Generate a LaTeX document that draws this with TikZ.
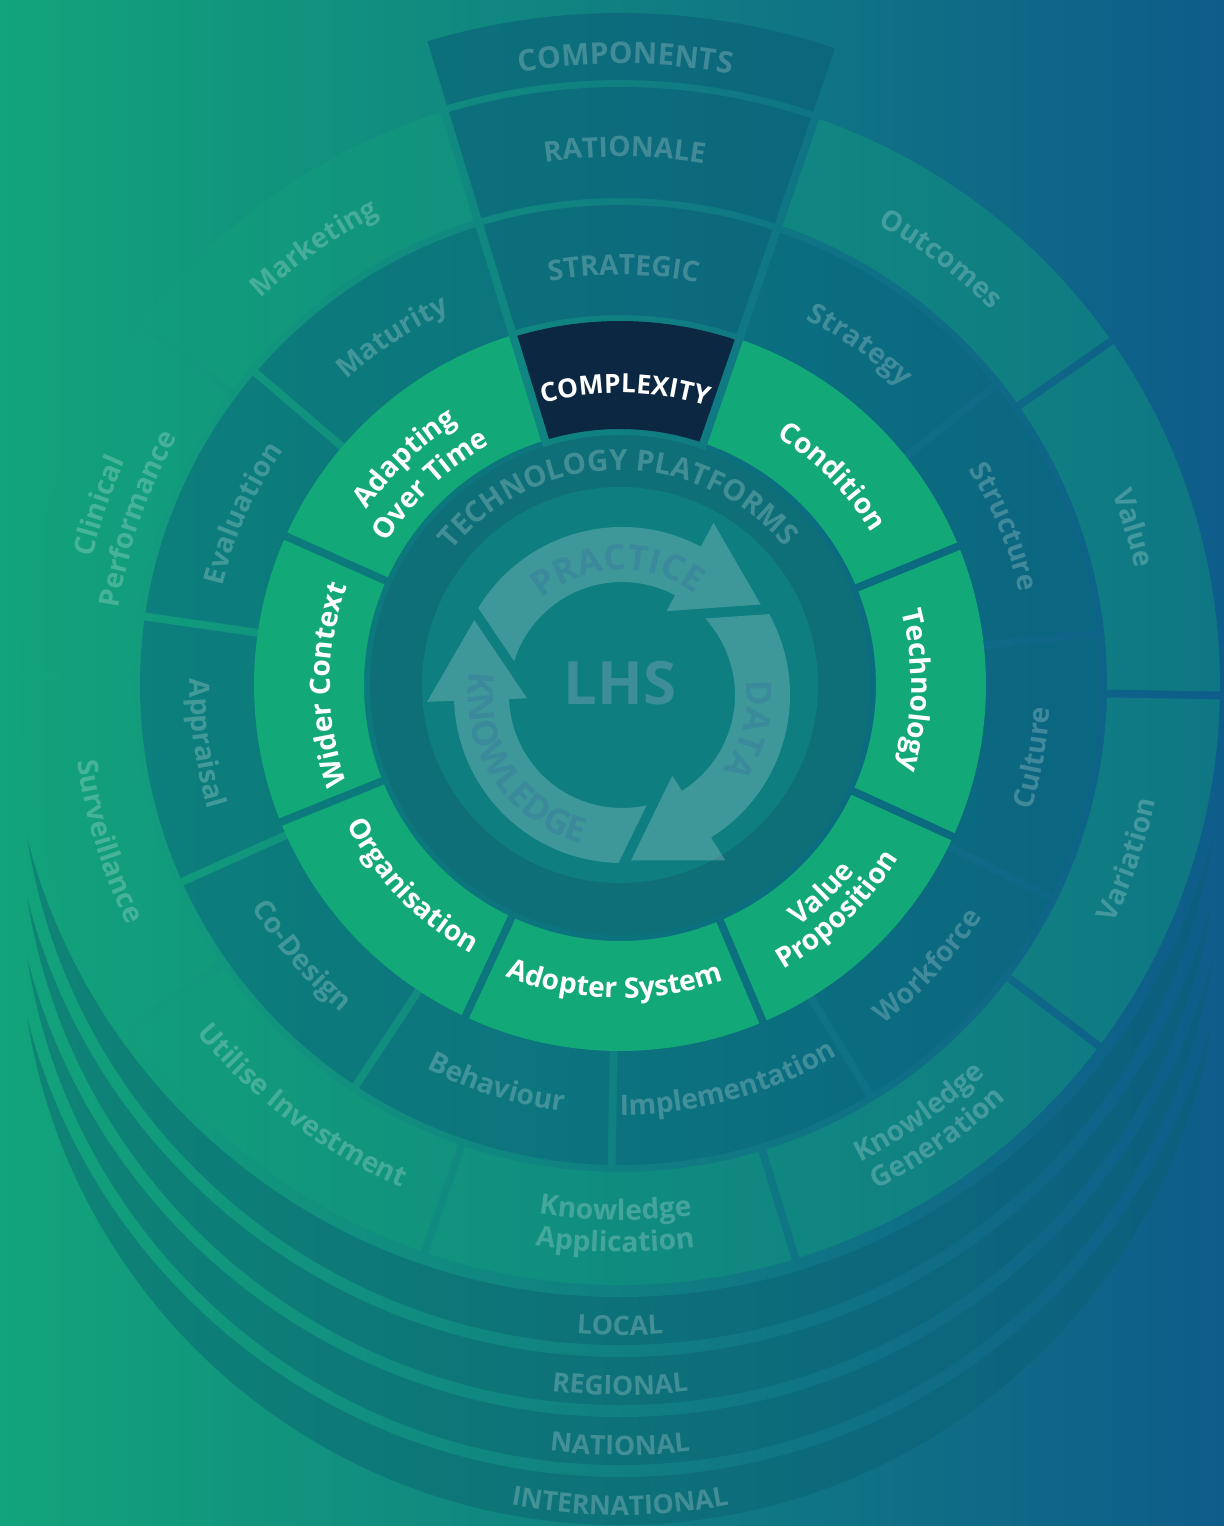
\documentclass[tikz,border=0pt]{standalone}
\usepackage{fontspec}
\setmainfont{Open Sans}
\usetikzlibrary{decorations.text}

\definecolor{bgleft}{HTML}{12A47A}
\definecolor{bgmid}{HTML}{0E8A80}
\definecolor{bgright}{HTML}{0E5C8A}
\definecolor{outerring}{HTML}{12A07C}
\definecolor{midring}{HTML}{09687C}
\definecolor{wedgecol}{HTML}{0A5F78}
\definecolor{layercol}{HTML}{0A6070}
\definecolor{domaingreen}{HTML}{13A877}
\definecolor{complexnavy}{HTML}{0B2741}
\definecolor{platformring}{HTML}{0E6F78}
\definecolor{lhsdisc}{HTML}{0E7E80}
\definecolor{cycletext}{HTML}{3A8A9C}
\definecolor{lhstext}{HTML}{3D8E98}

% page background, used again to cut gaps
\newcommand\fillpage{\shade[left color=bgleft,middle color=bgmid,right color=bgright] (-6.20,-8.41) rectangle (6.04,6.85);}
% ring part: start, end, inner r, outer r, half gap
\newcommand\ringpart[5]{({#1+asin(#5/#3)}:#3) -- ({#1+asin(#5/#4)}:#4) arc[start angle={#1+asin(#5/#4)},end angle={#2-asin(#5/#4)},radius=#4] -- ({#2-asin(#5/#3)}:#3) arc[start angle={#2-asin(#5/#3)},end angle={#1+asin(#5/#3)},radius=#3] -- cycle}
% curved labels: angle, baseline radius, format, text
\newcommand\cwtext[4]{\path[decorate,decoration={text along path,text align=center,text={|#3|#4}}] ({#1+60}:#2) arc[start angle={#1+60},end angle={#1-60},radius=#2];}
\newcommand\ccwtext[4]{\path[decorate,decoration={text along path,text align=center,text={|#3|#4}}] ({#1-60}:#2) arc[start angle={#1-60},end angle={#1+60},radius=#2];}

\newcommand\domainfont{\fontsize{8}{9}\selectfont\bfseries\color{white}}
\newcommand\faintfont{\fontsize{8}{9}\selectfont\bfseries\color{white}}
\newcommand\wedgefont{\fontsize{8}{9}\selectfont\bfseries\color{white}}
\newcommand\cyclefont{\fontsize{10}{11}\selectfont\bfseries\color{cycletext}}

\begin{document}
\begin{tikzpicture}
\useasboundingbox (-6.20,-8.41) rectangle (6.04,6.85);
\fillpage
% local / regional / national / international levels
\foreach \k in {4,3,2,1}{
  \begin{scope}
    \clip (0,-0.6*\k) circle (6.12);
    \fillpage
  \end{scope}
  \fill[layercol,fill opacity=0.45] (0,-0.6*\k) circle (6.0);
}
\begin{scope}
  \clip (0,0) circle (6.12);
  \fillpage
\end{scope}
% outer ring
\foreach \i in {0,...,8}
  \fill[outerring,fill opacity=0.4] \ringpart{107+36*\i}{107+36*(\i+1)}{4.87}{6.0}{0.04};
% second ring
\fill[midring,fill opacity=0.55] (0,0) circle (3.65);
\foreach \i in {0,...,9}
  \fill[midring,fill opacity=0.55] \ringpart{107+32.4*\i}{107+32.4*(\i+1)}{3.65}{4.80}{0.04};
% domains
\foreach \a/\b in {107/156,156/202,202/245,245/293,293/335.5,335.5/382.3,382.3/431}
  \fill[domaingreen] \ringpart{\a}{\b}{2.56}{3.66}{0.04};
% technology platforms and core
\fill[platformring] (0,0) circle (2.50);
\fill[lhsdisc] (0,0) circle (1.98);
% top column
\begin{scope}
  \clip \ringpart{71}{107}{2.50}{6.90}{-0.04};
  \fillpage
\end{scope}
\fill[complexnavy] \ringpart{71}{107}{2.56}{3.64}{0.04};
\fill[wedgecol,fill opacity=0.6] \ringpart{71}{107}{3.70}{4.80}{0.04};
\fill[wedgecol,fill opacity=0.6] \ringpart{71}{107}{4.87}{5.98}{0.04};
\fill[wedgecol,fill opacity=0.6] \ringpart{71}{107}{6.05}{6.72}{0.04};
% cycle arrows
\foreach \k in {0,1,2}
  \fill[white,fill opacity=0.2,shift={(0.02,-0.10)},rotate=-120*\k]
    (148.8:1.68) arc[start angle=148.8,end angle=62,radius=1.68] -- (62:1.95)
    -- (1.387,0.905) -- (62:0.95) -- (62:1.13)
    arc[start angle=62,end angle=162.6,radius=1.13] -- cycle;

\node[font=\fontsize{17}{18}\selectfont\bfseries,text=lhstext] (lhs) at (0,0.02) {LHS};
\begin{scope}[shift={(0.02,-0.10)}]
  \cwtext{92}{1.25}{\cyclefont}{PRACTICE}
  \cwtext{-15}{1.25}{\cyclefont}{DATA}
  \ccwtext{213}{1.54}{\cyclefont}{KNOWLEDGE}
\end{scope}

% domain labels
\cwtext{89}{2.92}{\fontsize{7.5}{9}\selectfont\bfseries\color{white}}{COMPLEXITY}
\cwtext{44.5}{2.94}{\domainfont}{Condition}
\cwtext{-1}{2.91}{\domainfont}{Technology}
\ccwtext{-46}{3.00}{\domainfont}{Value}
\ccwtext{-46}{3.28}{\domainfont}{Proposition}
\ccwtext{269}{3.13}{\domainfont}{Adopter System}
\ccwtext{224}{3.07}{\domainfont}{Organisation}
\cwtext{180}{2.90}{\domainfont}{Wider Context}
\cwtext{133.5}{3.08}{\domainfont}{Adapting}
\cwtext{133.5}{2.73}{\domainfont}{Over Time}

\begin{scope}[opacity=0.22]
  \cwtext{90.5}{2.15}{\fontsize{8.3}{10}\selectfont\bfseries\color{white}}{TECHNOLOGY PLATFORMS}
  % top column
  \cwtext{89.5}{4.10}{\wedgefont}{STRATEGIC}
  \cwtext{89.5}{5.28}{\wedgefont}{RATIONALE}
  \cwtext{89.5}{6.21}{\fontsize{8.5}{9}\selectfont\bfseries\color{white}}{COMPONENTS}
  % second ring
  \cwtext{123.2}{4.10}{\faintfont}{Maturity}
  \cwtext{155.6}{4.10}{\faintfont}{Evaluation}
  \ccwtext{188.0}{4.30}{\faintfont}{Appraisal}
  \ccwtext{220.4}{4.30}{\faintfont}{Co-Design}
  \ccwtext{252.8}{4.30}{\faintfont}{Behaviour}
  \ccwtext{285.2}{4.30}{\faintfont}{Implementation}
  \ccwtext{317.6}{4.30}{\faintfont}{Workforce}
  \ccwtext{350.0}{4.30}{\faintfont}{Culture}
  \cwtext{22.4}{4.10}{\faintfont}{Structure}
  \cwtext{54.8}{4.10}{\faintfont}{Strategy}
  % outer ring
  \cwtext{125}{5.28}{\faintfont}{Marketing}
  \cwtext{161}{5.43}{\faintfont}{Clinical}
  \cwtext{161}{5.07}{\faintfont}{Performance}
  \ccwtext{197}{5.48}{\faintfont}{Surveillance}
  \ccwtext{233}{5.48}{\faintfont}{Utilise Investment}
  \ccwtext{269.5}{5.35}{\faintfont}{Knowledge}
  \ccwtext{269.5}{5.67}{\faintfont}{Application}
  \ccwtext{305}{5.34}{\faintfont}{Knowledge}
  \ccwtext{305}{5.66}{\faintfont}{Generation}
  \ccwtext{341}{5.48}{\faintfont}{Variation}
  \cwtext{17}{5.28}{\faintfont}{Value}
  \cwtext{53}{5.28}{\faintfont}{Outcomes}
  % levels
  \foreach \k/\lvl in {1/LOCAL,2/REGIONAL,3/NATIONAL,4/INTERNATIONAL}{
    \begin{scope}[shift={(0,-0.6*\k)}]
      \ccwtext{270}{5.90}{\fontsize{7.6}{9}\selectfont\bfseries\color{white}}{\lvl}
    \end{scope}
  }
\end{scope}
\end{tikzpicture}
\end{document}
